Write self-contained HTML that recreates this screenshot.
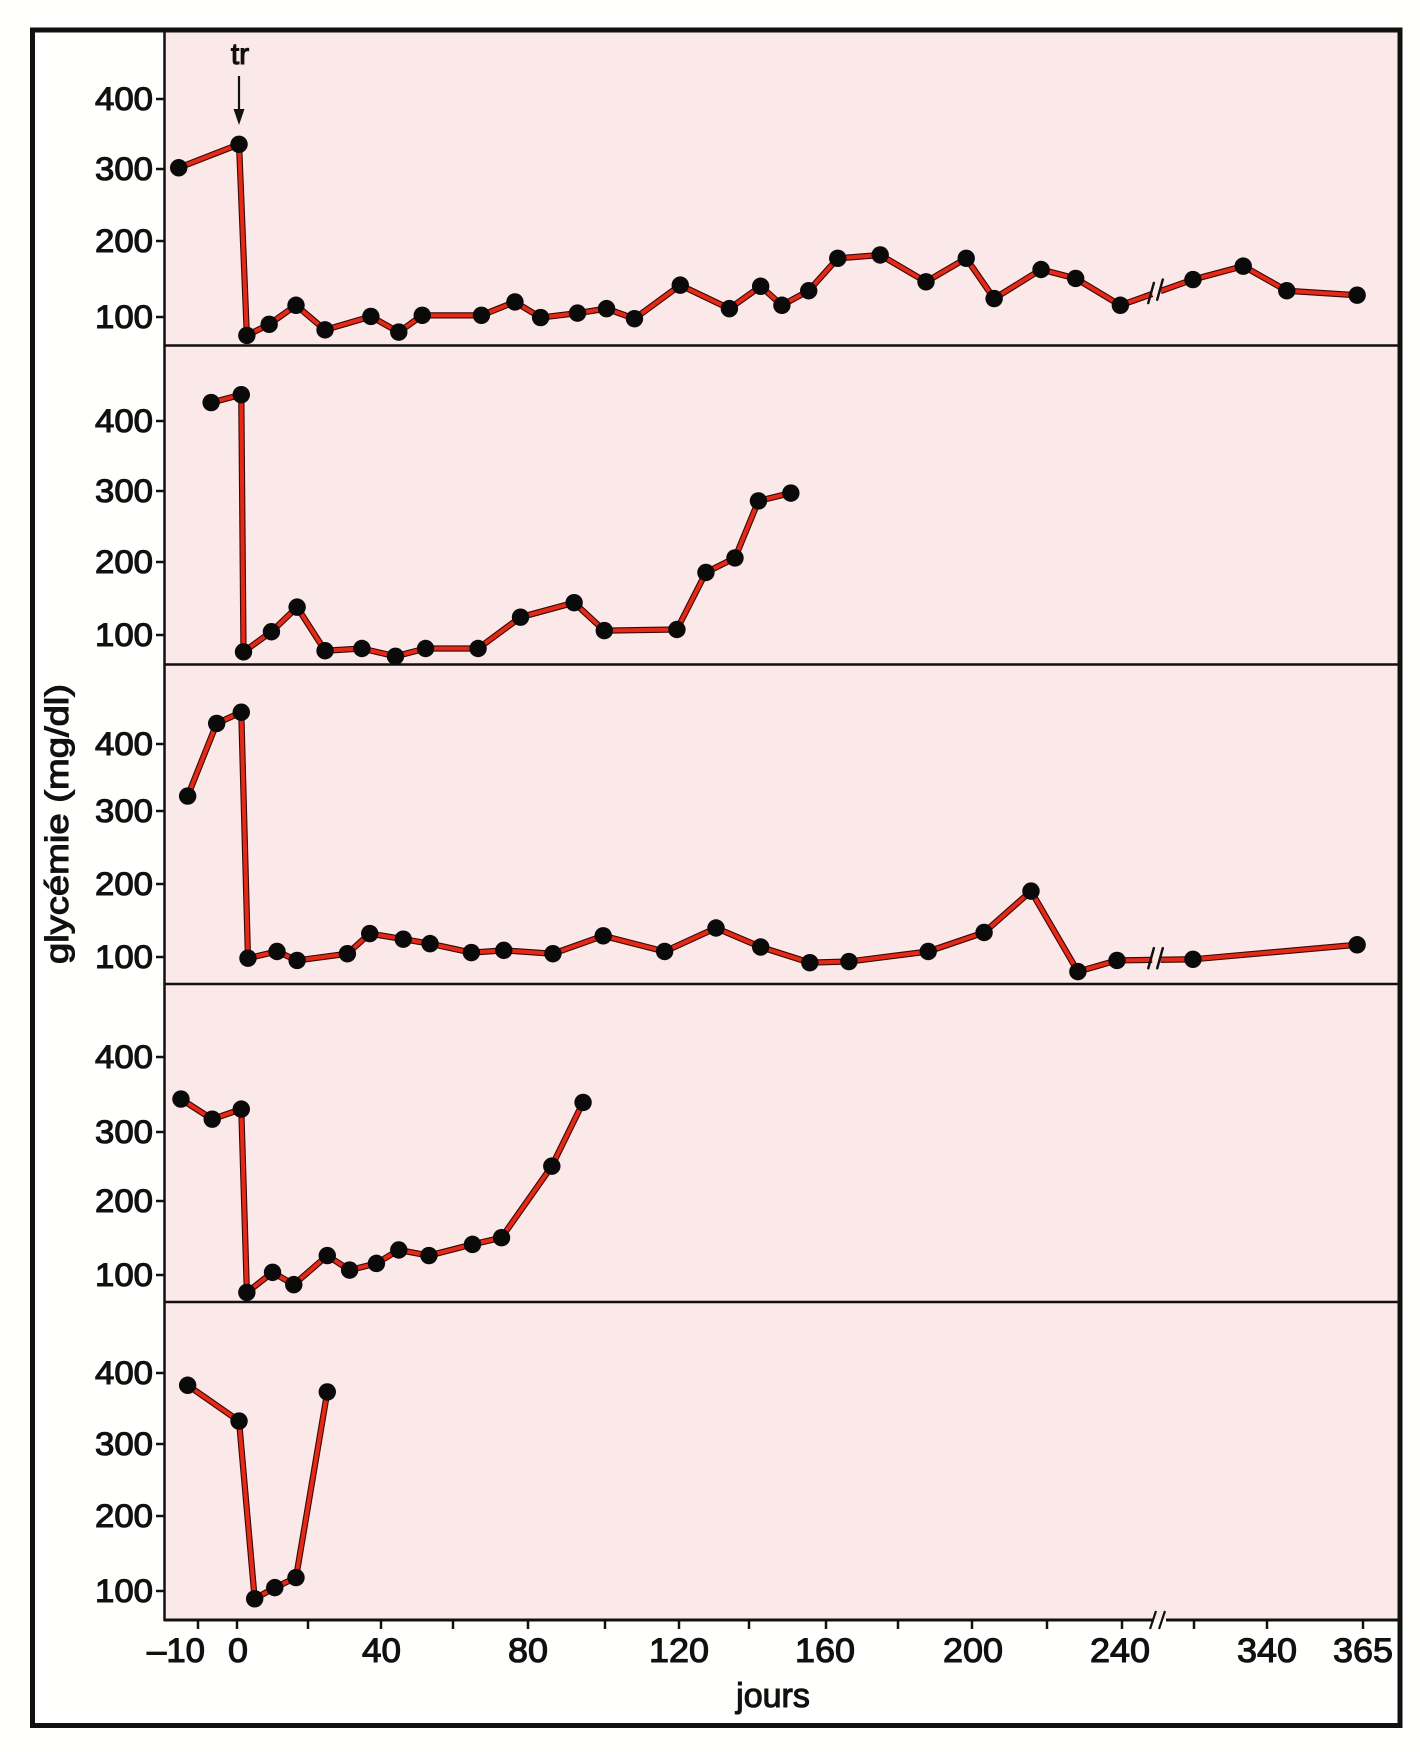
<!DOCTYPE html>
<html>
<head>
<meta charset="utf-8">
<style>
  html, body { margin: 0; padding: 0; background: #fffffd; }
  svg { display: block; }
  text { font-family: "Liberation Sans", Arial, sans-serif; fill: #111; stroke: #111; stroke-width: 1.1; }
</style>
</head>
<body>
<svg width="1420" height="1752" viewBox="0 0 1420 1752" xmlns="http://www.w3.org/2000/svg">
  <rect x="0" y="0" width="1420" height="1752" fill="#fffffd"/>
  <!-- pink plotting area -->
  <rect x="165" y="32" width="1234" height="1588" fill="#fbe9e9"/>

  <!-- outer frame -->
  <rect x="32.5" y="30" width="1367.5" height="1695.5" fill="none" stroke="#111" stroke-width="5"/>

  <!-- panel left line -->
  <line x1="164.5" y1="30" x2="164.5" y2="1621" stroke="#111" stroke-width="2.5"/>

  <!-- dividers -->
  <g stroke="#111" stroke-width="2.5">
    <line x1="164" y1="345.5" x2="1399" y2="345.5"/>
    <line x1="164" y1="664.5" x2="1399" y2="664.5"/>
    <line x1="164" y1="984" x2="1399" y2="984"/>
    <line x1="164" y1="1302" x2="1399" y2="1302"/>
  </g>
  <!-- x axis with break -->
  <g stroke="#111" stroke-width="3">
    <line x1="164" y1="1620" x2="1154" y2="1620"/>
    <line x1="1166" y1="1620" x2="1399" y2="1620"/>
  </g>
  <g stroke="#111" stroke-width="2.2">
    <line x1="1150" y1="1629" x2="1156" y2="1611"/>
    <line x1="1159" y1="1629" x2="1165" y2="1611"/>
  </g>

  <!-- x ticks -->
  <g stroke="#111" stroke-width="2.5">
    <line x1="198" y1="1620" x2="198" y2="1629"/>
    <line x1="237" y1="1620" x2="237" y2="1629"/>
    <line x1="308" y1="1620" x2="308" y2="1629"/>
    <line x1="381" y1="1620" x2="381" y2="1629"/>
    <line x1="453" y1="1620" x2="453" y2="1629"/>
    <line x1="528" y1="1620" x2="528" y2="1629"/>
    <line x1="605" y1="1620" x2="605" y2="1629"/>
    <line x1="679" y1="1620" x2="679" y2="1629"/>
    <line x1="749" y1="1620" x2="749" y2="1629"/>
    <line x1="826" y1="1620" x2="826" y2="1629"/>
    <line x1="898" y1="1620" x2="898" y2="1629"/>
    <line x1="972" y1="1620" x2="972" y2="1629"/>
    <line x1="1047" y1="1620" x2="1047" y2="1629"/>
    <line x1="1122" y1="1620" x2="1122" y2="1629"/>
    <line x1="1194" y1="1620" x2="1194" y2="1629"/>
    <line x1="1267" y1="1620" x2="1267" y2="1629"/>
    <line x1="1363" y1="1620" x2="1363" y2="1629"/>
  </g>

  <!-- x tick labels -->
  <g font-size="34">
    <text x="147" y="1662" textLength="58" lengthAdjust="spacingAndGlyphs">–10</text>
    <text x="228" y="1662" textLength="20" lengthAdjust="spacingAndGlyphs">0</text>
    <text x="362" y="1662" textLength="39" lengthAdjust="spacingAndGlyphs">40</text>
    <text x="508" y="1662" textLength="40" lengthAdjust="spacingAndGlyphs">80</text>
    <text x="649" y="1662" textLength="60" lengthAdjust="spacingAndGlyphs">120</text>
    <text x="795" y="1662" textLength="60" lengthAdjust="spacingAndGlyphs">160</text>
    <text x="943" y="1662" textLength="60" lengthAdjust="spacingAndGlyphs">200</text>
    <text x="1090" y="1662" textLength="60" lengthAdjust="spacingAndGlyphs">240</text>
    <text x="1237" y="1662" textLength="60" lengthAdjust="spacingAndGlyphs">340</text>
    <text x="1333" y="1662" textLength="60" lengthAdjust="spacingAndGlyphs">365</text>
  </g>
  <text x="773" y="1707" font-size="34" text-anchor="middle">jours</text>

  <!-- y axis label -->
  <text transform="translate(68,824) rotate(-90)" font-size="32" text-anchor="middle" textLength="280" lengthAdjust="spacingAndGlyphs">glycémie (mg/dl)</text>

  <!-- y ticks -->
  <g stroke="#111" stroke-width="2.5">
    <line x1="156" y1="99" x2="165" y2="99"/><line x1="156" y1="169" x2="165" y2="169"/><line x1="156" y1="241" x2="165" y2="241"/><line x1="156" y1="317" x2="165" y2="317"/>
    <line x1="156" y1="421" x2="165" y2="421"/><line x1="156" y1="491" x2="165" y2="491"/><line x1="156" y1="562" x2="165" y2="562"/><line x1="156" y1="635" x2="165" y2="635"/>
    <line x1="156" y1="744" x2="165" y2="744"/><line x1="156" y1="811" x2="165" y2="811"/><line x1="156" y1="884" x2="165" y2="884"/><line x1="156" y1="957" x2="165" y2="957"/>
    <line x1="156" y1="1057" x2="165" y2="1057"/><line x1="156" y1="1132" x2="165" y2="1132"/><line x1="156" y1="1201" x2="165" y2="1201"/><line x1="156" y1="1275" x2="165" y2="1275"/>
    <line x1="156" y1="1373" x2="165" y2="1373"/><line x1="156" y1="1444" x2="165" y2="1444"/><line x1="156" y1="1516" x2="165" y2="1516"/><line x1="156" y1="1591" x2="165" y2="1591"/>
  </g>

  <!-- y tick labels -->
  <g font-size="32" text-anchor="end">
    <text x="153" y="110" textLength="58" lengthAdjust="spacingAndGlyphs">400</text>
    <text x="153" y="180" textLength="58" lengthAdjust="spacingAndGlyphs">300</text>
    <text x="153" y="252" textLength="58" lengthAdjust="spacingAndGlyphs">200</text>
    <text x="153" y="328" textLength="58" lengthAdjust="spacingAndGlyphs">100</text>

    <text x="153" y="432" textLength="58" lengthAdjust="spacingAndGlyphs">400</text>
    <text x="153" y="502" textLength="58" lengthAdjust="spacingAndGlyphs">300</text>
    <text x="153" y="573" textLength="58" lengthAdjust="spacingAndGlyphs">200</text>
    <text x="153" y="646" textLength="58" lengthAdjust="spacingAndGlyphs">100</text>

    <text x="153" y="755" textLength="58" lengthAdjust="spacingAndGlyphs">400</text>
    <text x="153" y="822" textLength="58" lengthAdjust="spacingAndGlyphs">300</text>
    <text x="153" y="895" textLength="58" lengthAdjust="spacingAndGlyphs">200</text>
    <text x="153" y="968" textLength="58" lengthAdjust="spacingAndGlyphs">100</text>

    <text x="153" y="1068" textLength="58" lengthAdjust="spacingAndGlyphs">400</text>
    <text x="153" y="1143" textLength="58" lengthAdjust="spacingAndGlyphs">300</text>
    <text x="153" y="1212" textLength="58" lengthAdjust="spacingAndGlyphs">200</text>
    <text x="153" y="1286" textLength="58" lengthAdjust="spacingAndGlyphs">100</text>

    <text x="153" y="1384" textLength="58" lengthAdjust="spacingAndGlyphs">400</text>
    <text x="153" y="1455" textLength="58" lengthAdjust="spacingAndGlyphs">300</text>
    <text x="153" y="1527" textLength="58" lengthAdjust="spacingAndGlyphs">200</text>
    <text x="153" y="1602" textLength="58" lengthAdjust="spacingAndGlyphs">100</text>
  </g>

  <!-- tr label and arrow -->
  <text x="240" y="64" font-size="30" text-anchor="middle">tr</text>
  <line x1="239" y1="76" x2="239" y2="113" stroke="#111" stroke-width="2.2"/>
  <polygon points="233.5,109 244.5,109 239,125" fill="#111"/>

  <!-- data, in reference-display coordinates -->
  <g transform="matrix(1.117 0 0 1.118 0 2.3)" fill="none" stroke-linejoin="round" stroke-linecap="round">
    <g stroke="#3a0703" stroke-width="5.6">
      <polyline points="160,148 214,127 221,298 241,288 265,271 291,293 332,281 357,295 378,280 431,280 461,268 484,282 517,278 543,274 568,283 609,253 653,274 681,254 700,271 724,258 750,229 788,226 829,250 865,229 890,265 932,239 963,247 1003,271 1068,248 1113,236 1152,258 1215,262"/>
      <polyline points="189,358 216,351 218,581 243,563 266,541 291,580 324,578 354,585 381,578 428,578 466,550 514,537 541,562 606,561 632,510 658,497 679,446 708,439"/>
      <polyline points="168,710 194,645 216,635 222,855 248,849 266,857 311,851 331,833 361,838 385,842 422,850 451,848 495,851 540,835 595,849 641,828 681,845 725,859 760,858 831,849 881,832 923,795 965,867 1000,857 1068,856 1215,843"/>
      <polyline points="162,981 190,999 216,990 221,1154 244,1136 263,1147 293,1121 313,1134 337,1128 357,1116 384,1121 423,1111 449,1105 494,1041 522,984"/>
      <polyline points="168,1237 214,1269 228,1428 246,1418 265,1409 293,1243"/>
    </g>
    <g stroke="#e42a16" stroke-width="3.6">
      <polyline points="160,148 214,127 221,298 241,288 265,271 291,293 332,281 357,295 378,280 431,280 461,268 484,282 517,278 543,274 568,283 609,253 653,274 681,254 700,271 724,258 750,229 788,226 829,250 865,229 890,265 932,239 963,247 1003,271 1068,248 1113,236 1152,258 1215,262"/>
      <polyline points="189,358 216,351 218,581 243,563 266,541 291,580 324,578 354,585 381,578 428,578 466,550 514,537 541,562 606,561 632,510 658,497 679,446 708,439"/>
      <polyline points="168,710 194,645 216,635 222,855 248,849 266,857 311,851 331,833 361,838 385,842 422,850 451,848 495,851 540,835 595,849 641,828 681,845 725,859 760,858 831,849 881,832 923,795 965,867 1000,857 1068,856 1215,843"/>
      <polyline points="162,981 190,999 216,990 221,1154 244,1136 263,1147 293,1121 313,1134 337,1128 357,1116 384,1121 423,1111 449,1105 494,1041 522,984"/>
      <polyline points="168,1237 214,1269 228,1428 246,1418 265,1409 293,1243"/>
    </g>

    <!-- break gaps in data lines -->
    <line x1="1031.5" y1="260.8" x2="1039" y2="258.2" stroke="#fbe9e9" stroke-width="8" stroke-linecap="butt"/>
    <line x1="1031.5" y1="855.5" x2="1039" y2="855.4" stroke="#fbe9e9" stroke-width="8" stroke-linecap="butt"/>
    <g stroke="#111" stroke-width="2.2">
      <line x1="1028" y1="269" x2="1033" y2="251"/>
      <line x1="1036" y1="266" x2="1041" y2="248"/>
      <line x1="1028" y1="864" x2="1033" y2="846"/>
      <line x1="1036" y1="864" x2="1041" y2="846"/>
    </g>

    <!-- dots -->
    <g fill="#0a0a0a" stroke="none">
      <!-- panel 1 -->
      <circle cx="160" cy="148" r="7.8"/><circle cx="214" cy="127" r="7.8"/><circle cx="221" cy="298" r="7.8"/><circle cx="241" cy="288" r="7.8"/><circle cx="265" cy="271" r="7.8"/><circle cx="291" cy="293" r="7.8"/><circle cx="332" cy="281" r="7.8"/><circle cx="357" cy="295" r="7.8"/><circle cx="378" cy="280" r="7.8"/><circle cx="431" cy="280" r="7.8"/><circle cx="461" cy="268" r="7.8"/><circle cx="484" cy="282" r="7.8"/><circle cx="517" cy="278" r="7.8"/><circle cx="543" cy="274" r="7.8"/><circle cx="568" cy="283" r="7.8"/><circle cx="609" cy="253" r="7.8"/><circle cx="653" cy="274" r="7.8"/><circle cx="681" cy="254" r="7.8"/><circle cx="700" cy="271" r="7.8"/><circle cx="724" cy="258" r="7.8"/><circle cx="750" cy="229" r="7.8"/><circle cx="788" cy="226" r="7.8"/><circle cx="829" cy="250" r="7.8"/><circle cx="865" cy="229" r="7.8"/><circle cx="890" cy="265" r="7.8"/><circle cx="932" cy="239" r="7.8"/><circle cx="963" cy="247" r="7.8"/><circle cx="1003" cy="271" r="7.8"/><circle cx="1068" cy="248" r="7.8"/><circle cx="1113" cy="236" r="7.8"/><circle cx="1152" cy="258" r="7.8"/><circle cx="1215" cy="262" r="7.8"/>
      <!-- panel 2 -->
      <circle cx="189" cy="358" r="7.8"/><circle cx="216" cy="351" r="7.8"/><circle cx="218" cy="581" r="7.8"/><circle cx="243" cy="563" r="7.8"/><circle cx="266" cy="541" r="7.8"/><circle cx="291" cy="580" r="7.8"/><circle cx="324" cy="578" r="7.8"/><circle cx="354" cy="585" r="7.8"/><circle cx="381" cy="578" r="7.8"/><circle cx="428" cy="578" r="7.8"/><circle cx="466" cy="550" r="7.8"/><circle cx="514" cy="537" r="7.8"/><circle cx="541" cy="562" r="7.8"/><circle cx="606" cy="561" r="7.8"/><circle cx="632" cy="510" r="7.8"/><circle cx="658" cy="497" r="7.8"/><circle cx="679" cy="446" r="7.8"/><circle cx="708" cy="439" r="7.8"/>
      <!-- panel 3 -->
      <circle cx="168" cy="710" r="7.8"/><circle cx="194" cy="645" r="7.8"/><circle cx="216" cy="635" r="7.8"/><circle cx="222" cy="855" r="7.8"/><circle cx="248" cy="849" r="7.8"/><circle cx="266" cy="857" r="7.8"/><circle cx="311" cy="851" r="7.8"/><circle cx="331" cy="833" r="7.8"/><circle cx="361" cy="838" r="7.8"/><circle cx="385" cy="842" r="7.8"/><circle cx="422" cy="850" r="7.8"/><circle cx="451" cy="848" r="7.8"/><circle cx="495" cy="851" r="7.8"/><circle cx="540" cy="835" r="7.8"/><circle cx="595" cy="849" r="7.8"/><circle cx="641" cy="828" r="7.8"/><circle cx="681" cy="845" r="7.8"/><circle cx="725" cy="859" r="7.8"/><circle cx="760" cy="858" r="7.8"/><circle cx="831" cy="849" r="7.8"/><circle cx="881" cy="832" r="7.8"/><circle cx="923" cy="795" r="7.8"/><circle cx="965" cy="867" r="7.8"/><circle cx="1000" cy="857" r="7.8"/><circle cx="1068" cy="856" r="7.8"/><circle cx="1215" cy="843" r="7.8"/>
      <!-- panel 4 -->
      <circle cx="162" cy="981" r="7.8"/><circle cx="190" cy="999" r="7.8"/><circle cx="216" cy="990" r="7.8"/><circle cx="221" cy="1154" r="7.8"/><circle cx="244" cy="1136" r="7.8"/><circle cx="263" cy="1147" r="7.8"/><circle cx="293" cy="1121" r="7.8"/><circle cx="313" cy="1134" r="7.8"/><circle cx="337" cy="1128" r="7.8"/><circle cx="357" cy="1116" r="7.8"/><circle cx="384" cy="1121" r="7.8"/><circle cx="423" cy="1111" r="7.8"/><circle cx="449" cy="1105" r="7.8"/><circle cx="494" cy="1041" r="7.8"/><circle cx="522" cy="984" r="7.8"/>
      <!-- panel 5 -->
      <circle cx="168" cy="1237" r="7.8"/><circle cx="214" cy="1269" r="7.8"/><circle cx="228" cy="1428" r="7.8"/><circle cx="246" cy="1418" r="7.8"/><circle cx="265" cy="1409" r="7.8"/><circle cx="293" cy="1243" r="7.8"/>
    </g>
  </g>
</svg>
</body>
</html>
